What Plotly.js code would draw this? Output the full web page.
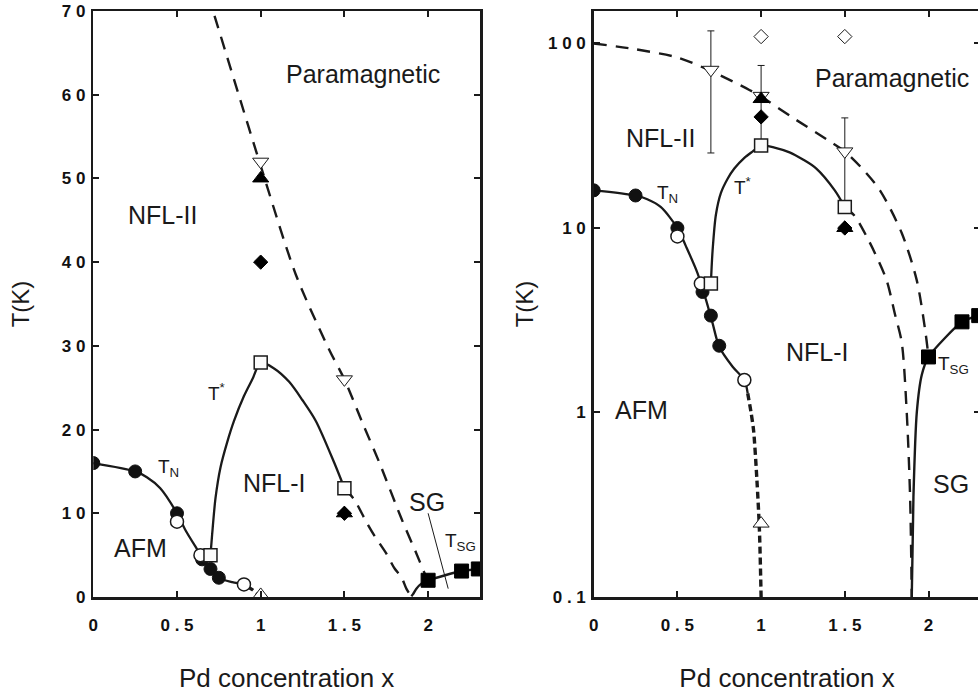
<!DOCTYPE html>
<html><head><meta charset="utf-8">
<script src="https://cdn.plot.ly/plotly-3.0.1.min.js"></script>
<style>html,body{margin:0;padding:0;overflow:hidden;background:#fff}#chart{width:990px;height:694px}</style>
</head><body><div id="chart"></div>
<script>
// ---------- data (Pd concentration x, temperature T in K) ----------
const tnX = [0, 0.25, 0.5, 0.65, 0.7, 0.75];
const tnT = [16, 15, 10, 4.5, 3.35, 2.3];
const openCircX = [0.5, 0.64, 0.9];
const openCircT = [9, 5, 1.5];
const tStarX = [0.7, 1.0, 1.5];
const tStarT = [5, 28, 13];
const sgX = [2.0, 2.2, 2.3];
const sgT = [2.0, 3.1, 3.35];
const downTriX = [0.7, 1.0, 1.5];
const downTriT = [72, 52, 26];
const downTriErrPlus = [45, 24, 13.5];
const downTriErrMinus = [46.5, 24, 13];
const upTriFilledX = [1.0, 1.5];
const upTriFilledT = [50, 10];
const diamondFilledX = [1.0, 1.5];
const diamondFilledT = [40, 10];
const diamondOpenX = [1.0, 1.5];
const diamondOpenT = [109, 109];
const upTriOpenX = [1.0];
const upTriOpenT = [0.25];

// guide curves
const tnLineX = [0, 0.25, 0.32, 0.4, 0.5, 0.55, 0.62, 0.67, 0.71, 0.75, 0.83, 0.9, 0.92];
const tnLineT = [16, 15, 14.3, 13, 10, 8, 5.7, 4.1, 3.05, 2.27, 1.77, 1.5, 1.27];
const tnDashX = [0.92, 0.94, 0.955, 0.975, 0.99, 1.0];
const tnDashT = [1.27, 1.0, 0.8, 0.43, 0.23, 0.1];
const tStarLineX = [0.7, 0.71, 0.73, 0.76, 0.8, 0.84, 0.9, 0.95, 1.0, 1.08, 1.17, 1.25, 1.33, 1.44, 1.5];
const tStarLineT = [5, 7.5, 11.8, 15.5, 18.5, 21, 24, 26, 28, 27.3, 25.7, 23.5, 21, 16, 13];
const outerDashX = [0, 0.25, 0.5, 0.7, 0.93, 1.0, 1.21, 1.41, 1.5, 1.61, 1.71, 1.84, 1.93, 1.98, 2.0];
const outerDashT = [100, 93, 84, 71, 56, 51.5, 38.5, 29.5, 26, 20.7, 16, 9.4, 5.2, 2.8, 2.0];
const innerDashX = [1.5, 1.56, 1.63, 1.68, 1.75, 1.8, 1.84, 1.87, 1.89, 1.9];
const innerDashT = [13, 11.6, 9, 7.3, 5.2, 3.4, 2.4, 1.0, 0.35, 0.1];
const sgLineX = [1.9, 1.91, 1.93, 1.96, 2.0, 2.2, 2.3];
const sgLineT = [0.1, 0.35, 1.0, 1.6, 2.0, 3.1, 3.35];
const sgPointerX = [2.0, 2.12];
const sgPointerT = [10, 1.0];

// ticks
const xTickVals = [0, 0.5, 1, 1.5, 2];
const xTickText = ['0', '0 . 5', '1', '1 . 5', '2'];
const linTickVals = [0, 10, 20, 30, 40, 50, 60, 70];
const linTickText = ['0', '1 0', '2 0', '3 0', '4 0', '5 0', '6 0', '7 0'];
const logTickVals = [0.1, 1, 10, 100];
const logTickText = ['0 . 1', '1', '1 0', '1 0 0'];

// ---------- styles ----------
const INK = '#1a1a1a';
const FONT = 'Liberation Sans, Arial, sans-serif';

function panel(xa, ya, isLog) {
  const t = [];
  const line = (x, y, opts) => t.push(Object.assign({x, y, xaxis: xa, yaxis: ya, mode: 'lines', hoverinfo: 'skip', showlegend: false}, opts));
  const mk = (x, y, marker, extra) => t.push(Object.assign({x, y, xaxis: xa, yaxis: ya, mode: 'markers', hoverinfo: 'skip', showlegend: false, marker}, extra || {}));
  line(outerDashX, outerDashT, {line: {color: INK, width: 2.4, dash: '13px,9px', shape: 'spline', smoothing: 0.8}});
  line(innerDashX, innerDashT, {line: {color: INK, width: 2.4, dash: '13px,9px', shape: 'spline', smoothing: 0.8}});
  line(tnLineX, tnLineT, {line: {color: INK, width: 2.3, shape: 'spline', smoothing: 0.8}});
  line(tnDashX, tnDashT, {line: {color: INK, width: 3.4, dash: '7px,4px', shape: 'spline', smoothing: 0.8}});
  line(tStarLineX, tStarLineT, {line: {color: INK, width: 2.3, shape: 'spline', smoothing: 0.8}});
  line(sgLineX, sgLineT, {line: {color: INK, width: 2.4, shape: 'spline', smoothing: 0.6}});
  if (!isLog) line(sgPointerX, sgPointerT, {line: {color: INK, width: 1}});
  const tri = {x: downTriX, y: downTriT, xaxis: xa, yaxis: ya, mode: 'markers', hoverinfo: 'skip', showlegend: false,
    marker: {symbol: 'triangle-down', size: 14, color: '#ffffff', line: {color: INK, width: 1}}};
  if (isLog) tri.error_y = {type: 'data', symmetric: false, array: downTriErrPlus, arrayminus: downTriErrMinus, color: INK, thickness: 1, width: 3.5};
  t.push(tri);
  mk(diamondOpenX, diamondOpenT, {symbol: 'diamond', size: 11, color: '#ffffff', line: {color: INK, width: 1}});
  mk(upTriFilledX, upTriFilledT, {symbol: 'triangle-up', size: 14, color: '#000000', line: {color: '#000', width: 1}});
  mk(diamondFilledX, diamondFilledT, {symbol: 'diamond', size: 11, color: '#000000', line: {color: '#000', width: 1}});
  mk(upTriOpenX, upTriOpenT, {symbol: 'triangle-up', size: 14, color: '#ffffff', line: {color: INK, width: 1}});
  mk(tnX, tnT, {symbol: 'circle', size: 13, color: '#111111', line: {color: '#111', width: 1}});
  mk(openCircX, openCircT, {symbol: 'circle', size: 13, color: '#ffffff', line: {color: INK, width: 1.5}});
  mk(tStarX, tStarT, {symbol: 'square', size: 13, color: '#fbfbfb', line: {color: INK, width: 1.5}});
  mk(sgX, sgT, {symbol: 'square', size: 14, color: '#000000', line: {color: '#000', width: 1}});
  return t;
}

const traces = panel('x', 'y', false).concat(panel('x2', 'y2', true));

const W = 990, H = 694, ML = 93, MT = 11, MB = 97;
const PW = W - ML;
const dom = (a, b) => [(a - ML) / PW, (b - ML) / PW];

const axCommon = {
  showgrid: false, zeroline: false, showline: true, linecolor: INK, linewidth: 2.5,
  mirror: 'ticks', ticks: 'inside', ticklen: 6, tickwidth: 2, tickcolor: INK,
  tickmode: 'array', tickfont: {family: FONT, size: 17, color: '#111', weight: 700}
};
const xTitle = {text: 'Pd concentration x', font: {family: FONT, size: 26, color: INK}, standoff: 35};

const layout = {
  width: W, height: H, margin: {l: ML, r: 0, t: MT, b: MB},
  paper_bgcolor: '#fff', plot_bgcolor: '#fff', showlegend: false,
  xaxis: Object.assign({}, axCommon, {domain: dom(93.3, 480), range: [0, 2.31], tickvals: xTickVals, ticktext: xTickText, ticklabelstandoff: 11, title: xTitle, anchor: 'y'}),
  yaxis: Object.assign({}, axCommon, {domain: [0, 1], range: [0, 70], tickvals: linTickVals, ticktext: linTickText, ticklabelstandoff: 2,
    title: {text: 'T(K)', font: {family: FONT, size: 24, color: INK}, standoff: 26}, anchor: 'x'}),
  xaxis2: Object.assign({}, axCommon, {domain: dom(593.7, 980.4), range: [0, 2.31], tickvals: xTickVals, ticktext: xTickText, ticklabelstandoff: 11, title: xTitle, anchor: 'y2'}),
  yaxis2: Object.assign({}, axCommon, {domain: [0, 1], type: 'log', range: [-1, 2.176], tickvals: logTickVals, ticktext: logTickText, ticklabelstandoff: 2,
    title: {text: 'T(K)', font: {family: FONT, size: 24, color: INK}, standoff: 8}, anchor: 'x2'}),
  annotations: []
};

function label(text, x, y, xr, yr, size, isLog) {
  layout.annotations.push({text, x, y: isLog ? Math.log10(y) : y, xref: xr, yref: yr, showarrow: false,
    xanchor: 'center', yanchor: 'middle', font: {family: FONT, size, color: INK}});
}
// left panel labels
label('Paramagnetic', 1.61, 62.5, 'x', 'y', 25, false);
label('NFL-II', 0.413, 45.6, 'x', 'y', 25, false);
label('T<sup>*</sup>', 0.735, 24.5, 'x', 'y', 19, false);
label('T<sub>N</sub>', 0.447, 15.4, 'x', 'y', 19, false);
label('NFL-I', 1.085, 13.6, 'x', 'y', 25, false);
label('AFM', 0.279, 5.8, 'x', 'y', 25, false);
label('SG', 1.996, 11.4, 'x', 'y', 25, false);
label('T<sub>SG</sub>', 2.195, 6.6, 'x', 'y', 19, false);
// right panel labels
label('Paramagnetic', 1.78, 65.4, 'x2', 'y2', 25, true);
label('NFL-II', 0.399, 30.8, 'x2', 'y2', 25, true);
label('T<sub>N</sub>', 0.442, 15.2, 'x2', 'y2', 19, true);
label('T<sup>*</sup>', 0.89, 16.8, 'x2', 'y2', 19, true);
label('NFL-I', 1.335, 2.14, 'x2', 'y2', 25, true);
label('AFM', 0.285, 1.03, 'x2', 'y2', 25, true);
label('SG', 2.137, 0.41, 'x2', 'y2', 25, true);
label('T<sub>SG</sub>', 2.15, 1.8, 'x2', 'y2', 19, true);

Plotly.newPlot('chart', traces, layout, {staticPlot: true, displayModeBar: false});
</script></body></html>
